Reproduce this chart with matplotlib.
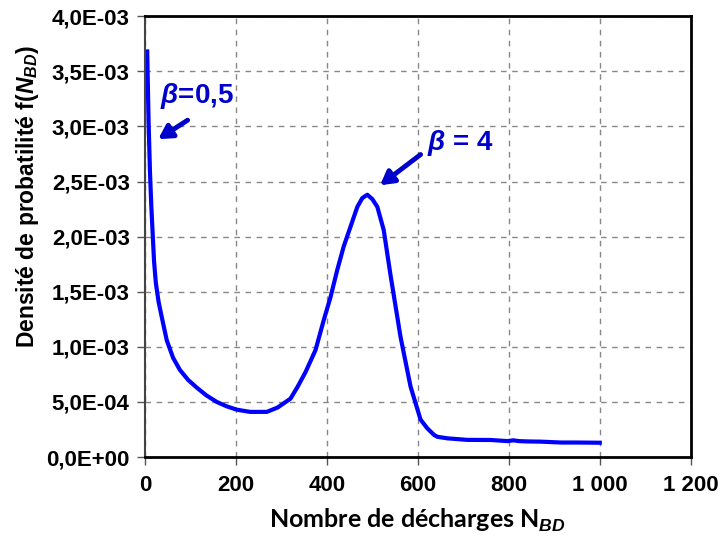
import matplotlib
matplotlib.use("Agg")
import matplotlib.pyplot as plt
from matplotlib.ticker import FuncFormatter, MultipleLocator

plt.rcParams['font.family'] = ['Liberation Sans', 'DejaVu Sans']
plt.rcParams['font.weight'] = 'bold'
plt.rcParams['mathtext.fontset'] = 'custom'
plt.rcParams['mathtext.rm'] = 'Liberation Sans:bold'
plt.rcParams['mathtext.it'] = 'Liberation Sans:bold:italic'
plt.rcParams['mathtext.bf'] = 'Liberation Sans:bold'

# courbe
n_bd = [5, 8, 11, 14, 17, 20, 24, 30, 37, 48, 62, 77, 95, 114, 135, 158, 180,
        202, 231, 268, 292, 320, 336, 353, 375, 393, 408, 423, 437, 452, 467,
        478, 489, 500, 511, 525, 540, 562, 584, 606, 621, 636, 643, 665, 709,
        760, 797, 810, 822, 840, 870, 915, 950, 1000]
f_nbd = [3.68e-3, 3.05e-3, 2.60e-3, 2.28e-3, 2.03e-3, 1.78e-3, 1.58e-3, 1.41e-3,
         1.27e-3, 1.06e-3, 9.0e-4, 7.9e-4, 7.0e-4, 6.3e-4, 5.6e-4, 5.0e-4,
         4.6e-4, 4.3e-4, 4.1e-4, 4.1e-4, 4.5e-4, 5.3e-4, 6.4e-4, 7.7e-4,
         9.7e-4, 1.24e-3, 1.45e-3, 1.70e-3, 1.91e-3, 2.09e-3, 2.27e-3, 2.35e-3,
         2.38e-3, 2.34e-3, 2.27e-3, 2.06e-3, 1.65e-3, 1.09e-3, 6.4e-4, 3.4e-4,
         2.6e-4, 2.0e-4, 1.84e-4, 1.7e-4, 1.56e-4, 1.55e-4, 1.45e-4, 1.52e-4,
         1.45e-4, 1.42e-4, 1.4e-4, 1.32e-4, 1.32e-4, 1.3e-4]

fig = plt.figure(figsize=(7.21, 5.39), dpi=100)
ax = fig.add_axes([0.201, 0.152, 0.757, 0.818])

ax.plot(n_bd, f_nbd, color='#0000ff', lw=3.0, solid_joinstyle='round')

ax.set_xlim(0, 1200)
ax.set_ylim(0, 4.0e-3)
ax.xaxis.set_major_locator(MultipleLocator(200))
ax.yaxis.set_major_locator(MultipleLocator(5e-4))
ax.xaxis.set_major_formatter(FuncFormatter(lambda v, p: f"{int(v):,}".replace(',', ' ')))
ax.yaxis.set_major_formatter(FuncFormatter(lambda v, p: f"{v:.1E}".replace('.', ',')))
ax.tick_params(labelsize=16, direction='out', length=6, width=1, color='#555555')
ax.tick_params(axis='y', pad=5)
ax.tick_params(axis='x', pad=7)

ax.grid(True, color='#888888', linestyle=(0, (4, 4)), lw=1)
for s in ax.spines.values():
    s.set_color('black')
    s.set_linewidth(2)
ax.spines['left'].set_color('#444444')
ax.spines['left'].set_linewidth(1.5)

ax.set_xlabel("Nombre de décharges N$_{BD}$", fontsize=18, fontweight='bold',
              family=['Lato', 'DejaVu Sans'], labelpad=8)
ax.set_ylabel("Densité de probatilité f($N_{BD}$)", fontsize=16.5, fontweight='bold')
ax.yaxis.set_label_coords(-0.19, 0.59)

txt_col = '#0000cc'
ax.annotate("", xy=(24, 2.87e-3), xytext=(99, 3.07e-3),
            arrowprops=dict(arrowstyle='-|>,head_length=0.8,head_width=0.45', color=txt_col, lw=3.5))
ax.text(33, 3.28e-3, r"$\beta$=0,5", color=txt_col, fontsize=20, fontweight='bold', va='center')
ax.annotate("", xy=(512, 2.45e-3), xytext=(611, 2.76e-3),
            arrowprops=dict(arrowstyle='-|>,head_length=0.8,head_width=0.45', color=txt_col, lw=3.5))
ax.text(620, 2.85e-3, r"$\beta$ = 4", color=txt_col, fontsize=20, fontweight='bold', va='center')

fig.savefig("out.png", dpi=100)
